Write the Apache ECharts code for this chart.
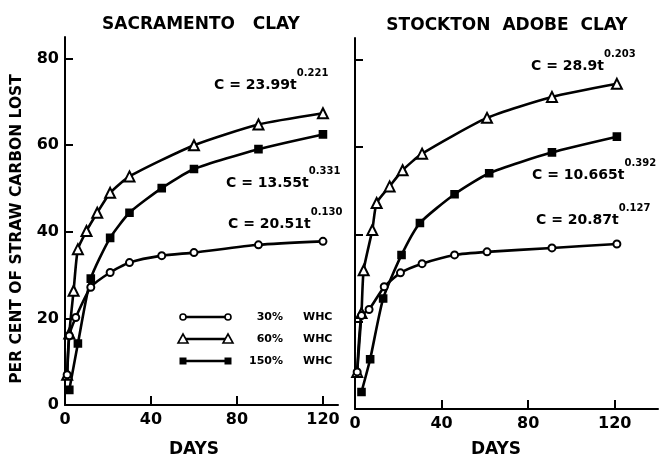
<!DOCTYPE html>
<html><head><meta charset="utf-8">
<script src="https://cdn.jsdelivr.net/npm/echarts@6/dist/echarts.min.js"></script>
<style>html,body{margin:0;padding:0;background:#fff}#c{width:668px;height:460px}</style>
</head><body><div id="c"></div>
<script>
// ---- data ----
const panelTitles = ['SACRAMENTO   CLAY', 'STOCKTON  ADOBE  CLAY'];
const xLabelTicks = [0, 40, 80, 120];
const xInnerTicks = [40, 80, 120];
const yLabelTicks = [0, 20, 40, 60, 80];
const yInnerTicks = [20, 40, 60, 80];
const seriesNames = ['30% WHC', '60% WHC', '150% WHC'];
const legendPct = ['30%', '60%', '150%'];
const legendUnit = 'WHC';
const yName = 'PER CENT OF STRAW CARBON LOST';
const xName = 'DAYS';
// Sacramento clay  [day, % carbon lost]
const sac30  = [[1,7],[2,16],[5,20.2],[12,27.2],[21,30.6],[30,32.9],[45,34.5],[60,35.2],[90,37.0],[120,37.8]];
const sac60  = [[1,7],[2,16.5],[4,26.4],[6,36],[10,40.2],[15,44.4],[21,49],[30,52.8],[60,60],[90,64.8],[120,67.4]];
const sac150 = [[2,3.5],[6,14.2],[12,29.2],[21,38.6],[30,44.4],[45,50.1],[60,54.5],[90,59.1],[120,62.5]];
// Stockton adobe clay
const sto30  = [[1,8.5],[3,21.4],[6.5,22.8],[13.5,28],[21,31.2],[31,33.3],[46,35.3],[61,36],[91,36.9],[121,37.8]];
const sto60  = [[1,8.5],[3,22],[4,31.8],[8,41],[10,47.2],[16,51],[22,54.7],[31,58.5],[61,66.7],[91,71.5],[121,74.5]];
const sto150 = [[3,3.9],[7,11.4],[13,25.3],[21.5,35.3],[30,42.6],[46,49.2],[62,54],[91,58.8],[121,62.4]];
// fitted equations
const sacEq = [['C = 23.99t', '0.221'], ['C = 13.55t', '0.331'], ['C = 20.51t', '0.130']];
const stoEq = [['C = 28.9t', '0.203'], ['C = 10.665t', '0.392'], ['C = 20.87t', '0.127']];

// ---- chart ----
const FF = '"DejaVu Sans", Verdana, sans-serif';
const K = '#000';
const chart = echarts.init(document.getElementById('c'), null, {renderer: 'canvas'});

function xAxis(gi, max) {
  return {
    gridIndex: gi, type: 'value', min: 0, max: max, interval: 40,
    axisLine: {lineStyle: {color: K, width: 2}},
    axisTick: {inside: true, length: 9, lineStyle: {color: K, width: 2}, customValues: xInnerTicks},
    axisLabel: {customValues: xLabelTicks, color: K, fontSize: 16, fontWeight: 'bold', fontFamily: FF, margin: 7},
    splitLine: {show: false}
  };
}
function yAxis(gi, showLabels) {
  return {
    gridIndex: gi, type: 'value', min: 0, max: 85, interval: 20,
    axisLine: {show: true, lineStyle: {color: K, width: 2}},
    axisTick: {show: true, inside: true, length: 8, lineStyle: {color: K, width: 2}, customValues: yInnerTicks},
    axisLabel: {show: showLabels, customValues: yLabelTicks, color: K, fontSize: 16, fontWeight: 'bold', fontFamily: FF, margin: 6},
    splitLine: {show: false},
    name: showLabels ? yName : '',
    nameLocation: 'middle', nameGap: 40,
    nameTextStyle: {color: K, fontSize: 15.5, fontWeight: 'bold', fontFamily: FF, padding: [0, 16, 0, 0]}
  };
}
const symbols = ['emptyCircle', 'emptyTriangle', 'rect'];
const sizes = [7, 10, 7];
function mkSeries(name, data, idx, gi) {
  return {
    name: name, type: 'line', xAxisIndex: gi, yAxisIndex: gi, data: data,
    smooth: 0.2,
    symbol: symbols[idx], symbolSize: sizes[idx], showAllSymbol: true,
    lineStyle: {color: K, width: 2.6},
    itemStyle: {color: K, borderColor: K, borderWidth: 1.6},
    emphasis: {disabled: true}, animation: false, z: 3 - idx
  };
}

const graphics = [];
function txt(x, y, s, size, align) {
  graphics.push({type: 'text', x: x, y: y, silent: true,
    style: {text: s, fill: K, font: 'bold ' + size + 'px ' + FF, textAlign: align || 'left', textVerticalAlign: 'middle'}});
}
function eq(x, y, main, sup) {
  graphics.push({type: 'text', x: x, y: y, silent: true,
    style: {
      text: '{m|' + main + '}{s|' + sup + '}', textAlign: 'left', textVerticalAlign: 'middle',
      rich: {
        m: {fill: K, fontSize: 14, fontWeight: 'bold', fontFamily: FF, lineHeight: 24, verticalAlign: 'bottom'},
        s: {fill: K, fontSize: 10, fontWeight: 'bold', fontFamily: FF, lineHeight: 24, verticalAlign: 'top'}
      }
    }});
}
// equations (left x, centre y of the line box)
const sacEqPos = [[214, 80], [226, 178], [228, 219]];
const stoEqPos = [[531, 61], [532, 170], [536, 215]];
sacEq.forEach((e, i) => eq(sacEqPos[i][0], sacEqPos[i][1], e[0], e[1]));
stoEq.forEach((e, i) => eq(stoEqPos[i][0], stoEqPos[i][1], e[0], e[1]));
// axis names DAYS
txt(194, 450, xName, 17, 'center');
txt(496, 450, xName, 17, 'center');
// legend
const legY = [317, 339, 361];
legY.forEach((y, i) => {
  graphics.push({type: 'line', silent: true, shape: {x1: 183, y1: y, x2: 228, y2: y}, style: {stroke: K, lineWidth: 2.6}});
  [183, 228].forEach(cx => {
    if (i === 0) graphics.push({type: 'circle', silent: true, shape: {cx: cx, cy: y, r: 3}, style: {fill: '#fff', stroke: K, lineWidth: 1.6}});
    else if (i === 1) graphics.push({type: 'polygon', silent: true, shape: {points: [[cx - 5, y + 4], [cx + 5, y + 4], [cx, y - 5]]}, style: {fill: '#fff', stroke: K, lineWidth: 1.6}});
    else graphics.push({type: 'rect', silent: true, shape: {x: cx - 3.5, y: y - 3.5, width: 7, height: 7}, style: {fill: K}});
  });
  txt(283, y, legendPct[i], 11, 'right');
  txt(303, y, legendUnit, 11, 'left');
});

chart.setOption({
  backgroundColor: '#fff',
  animation: false,
  title: [
    {text: panelTitles[0], left: 196, top: 11, textAlign: 'center', textStyle: {color: K, fontSize: 17, fontWeight: 'bold', fontFamily: FF}},
    {text: panelTitles[1], left: 502, top: 12, textAlign: 'center', textStyle: {color: K, fontSize: 17, fontWeight: 'bold', fontFamily: FF}}
  ],
  grid: [
    {left: 65, top: 37, width: 273, bottom: 55},
    {left: 355, top: 38, width: 303, bottom: 51}
  ],
  xAxis: [xAxis(0, 127), xAxis(1, 140)],
  yAxis: [yAxis(0, true), yAxis(1, false)],
  series: [
    mkSeries(seriesNames[0], sac30, 0, 0),
    mkSeries(seriesNames[1], sac60, 1, 0),
    mkSeries(seriesNames[2], sac150, 2, 0),
    mkSeries(seriesNames[0], sto30, 0, 1),
    mkSeries(seriesNames[1], sto60, 1, 1),
    mkSeries(seriesNames[2], sto150, 2, 1)
  ],
  graphic: graphics
});
</script>
</body></html>
